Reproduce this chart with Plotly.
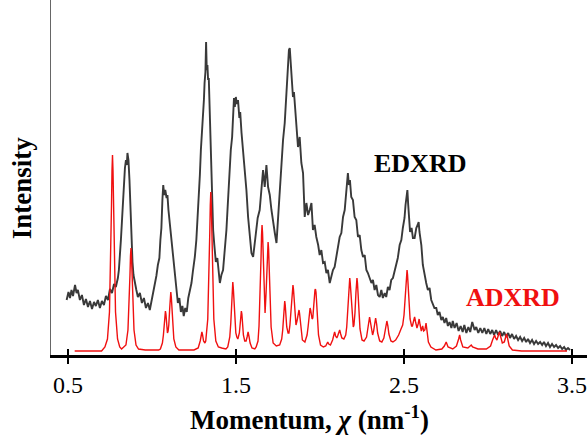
import plotly.graph_objects as go

# ---- EDXRD measured profile (momentum in nm^-1, intensity in arbitrary units) ----
edx_x = [
    0.492, 0.503, 0.512, 0.521, 0.530, 0.542, 0.551, 0.559, 0.571, 0.583, 0.595, 0.607, 0.619, 0.631,
    0.643, 0.655, 0.666, 0.678, 0.690, 0.702, 0.714, 0.726, 0.738, 0.750, 0.762, 0.774, 0.785, 0.797,
    0.803, 0.809, 0.815, 0.821, 0.827, 0.833, 0.839, 0.845, 0.850, 0.854, 0.860, 0.866, 0.872, 0.878,
    0.884, 0.890, 0.898, 0.907, 0.916, 0.928, 0.940, 0.952, 0.964, 0.976, 0.987, 0.999, 1.008, 1.017,
    1.026, 1.035, 1.044, 1.050, 1.056, 1.062, 1.067, 1.073, 1.079, 1.087, 1.092, 1.098, 1.107, 1.116,
    1.124, 1.136, 1.145, 1.154, 1.163, 1.172, 1.181, 1.189, 1.198, 1.207, 1.216, 1.225, 1.235, 1.243,
    1.255, 1.264, 1.273, 1.279, 1.285, 1.291, 1.297, 1.303, 1.309, 1.313, 1.318, 1.322, 1.326, 1.330,
    1.334, 1.338, 1.344, 1.350, 1.354, 1.359, 1.364, 1.371, 1.380, 1.389, 1.397, 1.404, 1.413, 1.423,
    1.433, 1.443, 1.451, 1.457, 1.463, 1.469, 1.477, 1.483, 1.488, 1.493, 1.499, 1.505, 1.512, 1.520,
    1.525, 1.533, 1.542, 1.552, 1.562, 1.572, 1.582, 1.592, 1.602, 1.612, 1.622, 1.629, 1.641, 1.652,
    1.661, 1.671, 1.681, 1.691, 1.701, 1.711, 1.721, 1.731, 1.741, 1.750, 1.760, 1.770, 1.780, 1.790,
    1.800, 1.810, 1.815, 1.820, 1.825, 1.830, 1.834, 1.839, 1.845, 1.850, 1.860, 1.869, 1.879, 1.889,
    1.899, 1.909, 1.919, 1.929, 1.939, 1.949, 1.958, 1.968, 1.978, 1.989, 1.998, 2.008, 2.018, 2.028,
    2.038, 2.047, 2.058, 2.067, 2.077, 2.087, 2.097, 2.107, 2.117, 2.127, 2.137, 2.147, 2.157, 2.162,
    2.166, 2.172, 2.178, 2.186, 2.196, 2.206, 2.216, 2.226, 2.236, 2.246, 2.256, 2.266, 2.276, 2.285,
    2.295, 2.306, 2.315, 2.325, 2.335, 2.345, 2.355, 2.365, 2.374, 2.385, 2.394, 2.404, 2.414, 2.424,
    2.434, 2.444, 2.454, 2.463, 2.474, 2.484, 2.493, 2.503, 2.509, 2.515, 2.520, 2.525, 2.530, 2.536,
    2.545, 2.553, 2.563, 2.573, 2.581, 2.587, 2.592, 2.603, 2.612, 2.622, 2.632, 2.642, 2.652, 2.662,
    2.671, 2.681, 2.692, 2.701, 2.711, 2.722, 2.731, 2.741, 2.751, 2.761, 2.771, 2.782, 2.790, 2.801,
    2.813, 2.825, 2.837, 2.849, 2.859, 2.871, 2.883, 2.894, 2.906, 2.920, 2.930, 2.942, 2.954, 2.966,
    2.978, 2.990, 3.001, 3.013, 3.025, 3.036, 3.048, 3.060, 3.072, 3.084, 3.096, 3.108, 3.120, 3.131,
    3.143, 3.155, 3.167, 3.179, 3.191, 3.203, 3.215, 3.227, 3.238, 3.250, 3.262, 3.274, 3.286, 3.298,
    3.310, 3.322, 3.333, 3.345, 3.357, 3.369, 3.381, 3.393, 3.405, 3.417, 3.429, 3.441, 3.453, 3.464,
    3.476, 3.488,
]
edx_y = [
    55, 63, 57, 65, 59, 70, 62, 65, 55, 60, 50, 56, 48, 54,
    46, 53, 49, 55, 47, 54, 50, 59, 55, 66, 62, 71, 68, 77,
    85, 97, 115, 133, 155, 175, 187, 195, 190, 202, 195, 175, 145, 117,
    93, 80, 71, 65, 58, 62, 52, 57, 47, 52, 45, 55, 63, 72,
    79, 90, 97, 115, 127, 155, 170, 160, 165, 157, 160, 145, 130, 112,
    97, 78, 65, 52, 57, 43, 49, 39, 47, 43, 57, 63, 72, 83,
    98, 115, 138, 155, 180, 205, 220, 237, 255, 272, 283, 313, 285, 290,
    275, 277, 242, 215, 185, 155, 125, 110, 93, 97, 80, 72, 80, 85,
    105, 125, 150, 170, 185, 205, 218, 245, 257, 248, 258, 251, 255, 237,
    243, 222, 205, 185, 165, 138, 115, 102, 98, 115, 128, 137, 145, 172,
    185, 168, 190, 168, 160, 145, 132, 122, 112, 138, 160, 185, 215, 232,
    265, 292, 305, 307, 293, 285, 275, 258, 263, 250, 232, 208, 218, 192,
    182, 138, 152, 140, 145, 152, 125, 130, 118, 110, 100, 105, 92, 93,
    82, 85, 72, 80, 85, 88, 98, 105, 118, 122, 138, 145, 165, 180,
    182, 170, 175, 158, 155, 138, 135, 118, 120, 105, 98, 100, 85, 82,
    77, 72, 75, 65, 70, 60, 58, 65, 57, 62, 58, 68, 65, 75,
    77, 85, 93, 97, 110, 115, 127, 137, 150, 162, 165, 150, 140, 123,
    127, 117, 117, 127, 130, 133, 123, 110, 90, 80, 72, 65, 67, 55,
    52, 47, 47, 40, 43, 35, 38, 32, 37, 29, 33, 27, 34, 27,
    32, 24, 29, 23, 30, 22, 28, 23, 33, 25, 28, 22, 27, 22,
    27, 21, 26, 21, 25, 20, 25, 20, 24, 19, 23, 18, 22, 17,
    21, 16, 19, 15, 18, 14, 17, 13, 16, 12, 15, 11, 14, 11,
    13, 10, 13, 9, 12, 8, 11, 8, 10, 7, 9, 6, 8, 5,
    7, 5,
]

# ---- ADXRD calculated pattern ----
adx_x = [
    0.540, 0.700, 0.720, 0.735, 0.747, 0.753, 0.759, 0.762, 0.765, 0.768, 0.771, 0.777, 0.783, 0.795,
    0.808, 0.819, 0.845, 0.857, 0.863, 0.869, 0.872, 0.875, 0.878, 0.881, 0.887, 0.893, 0.905, 0.920,
    0.960, 1.040, 1.050, 1.062, 1.068, 1.074, 1.077, 1.080, 1.083, 1.086, 1.092, 1.096, 1.100, 1.106,
    1.109, 1.112, 1.115, 1.118, 1.124, 1.130, 1.142, 1.160, 1.250, 1.275, 1.287, 1.293, 1.297, 1.301,
    1.307, 1.315, 1.320, 1.332, 1.338, 1.344, 1.347, 1.350, 1.353, 1.356, 1.362, 1.368, 1.380, 1.395,
    1.415, 1.440, 1.451, 1.463, 1.469, 1.475, 1.478, 1.481, 1.484, 1.487, 1.493, 1.499, 1.505, 1.511,
    1.520, 1.526, 1.529, 1.532, 1.535, 1.538, 1.544, 1.552, 1.560, 1.566, 1.572, 1.578, 1.584, 1.595,
    1.612, 1.620, 1.631, 1.637, 1.643, 1.649, 1.652, 1.655, 1.658, 1.661, 1.667, 1.673, 1.679, 1.685,
    1.688, 1.691, 1.694, 1.697, 1.703, 1.709, 1.721, 1.740, 1.760, 1.772, 1.778, 1.784, 1.787, 1.790,
    1.793, 1.796, 1.802, 1.810, 1.815, 1.821, 1.827, 1.833, 1.836, 1.839, 1.842, 1.845, 1.851, 1.857,
    1.863, 1.869, 1.872, 1.875, 1.878, 1.881, 1.887, 1.895, 1.910, 1.923, 1.929, 1.935, 1.938, 1.941,
    1.944, 1.948, 1.953, 1.957, 1.961, 1.967, 1.970, 1.973, 1.976, 1.979, 1.985, 1.991, 2.003, 2.020,
    2.034, 2.040, 2.046, 2.052, 2.062, 2.075, 2.081, 2.087, 2.093, 2.100, 2.105, 2.111, 2.117, 2.123,
    2.130, 2.142, 2.153, 2.159, 2.165, 2.171, 2.174, 2.177, 2.180, 2.183, 2.189, 2.195, 2.198, 2.202,
    2.208, 2.214, 2.217, 2.220, 2.223, 2.226, 2.232, 2.238, 2.250, 2.262, 2.277, 2.283, 2.289, 2.295,
    2.301, 2.307, 2.313, 2.319, 2.325, 2.331, 2.337, 2.343, 2.355, 2.368, 2.380, 2.386, 2.392, 2.398,
    2.404, 2.410, 2.422, 2.434, 2.450, 2.468, 2.482, 2.492, 2.500, 2.506, 2.512, 2.515, 2.518, 2.521,
    2.524, 2.530, 2.536, 2.545, 2.550, 2.557, 2.563, 2.569, 2.577, 2.584, 2.590, 2.596, 2.603, 2.611,
    2.617, 2.624, 2.631, 2.637, 2.645, 2.660, 2.690, 2.725, 2.740, 2.751, 2.762, 2.790, 2.812, 2.825,
    2.831, 2.837, 2.850, 2.880, 2.893, 2.900, 2.908, 2.940, 2.990, 3.015, 3.027, 3.033, 3.039, 3.045,
    3.053, 3.062, 3.068, 3.074, 3.085, 3.097, 3.104, 3.110, 3.116, 3.126, 3.145, 3.200, 3.470,
]
adx_y = [
    4, 4, 8, 16, 43, 84, 149, 184, 200, 184, 149, 84, 43, 16,
    8, 6, 10, 25, 46, 80, 99, 107, 99, 80, 46, 25, 10, 6,
    5, 5, 6, 12, 20, 34, 41, 44, 41, 35, 22, 24, 30, 48,
    58, 63, 58, 48, 28, 16, 8, 5, 5, 7, 14, 20, 23, 20,
    14, 12, 14, 36, 69, 122, 150, 163, 150, 122, 69, 36, 14, 8,
    7, 6, 8, 18, 32, 55, 67, 73, 67, 55, 34, 22, 18, 16,
    22, 34, 41, 44, 41, 34, 20, 14, 14, 18, 23, 18, 12, 7,
    6, 8, 14, 29, 56, 97, 120, 130, 122, 100, 65, 42, 62, 91,
    106, 113, 106, 90, 51, 28, 12, 9, 10, 16, 25, 41, 50, 54,
    50, 42, 28, 22, 22, 30, 46, 62, 69, 70, 66, 56, 38, 30,
    34, 40, 44, 45, 42, 36, 24, 15, 13, 20, 28, 40, 45, 47,
    45, 40, 36, 37, 48, 61, 65, 66, 63, 55, 35, 20, 10, 8,
    9, 11, 13, 11, 10, 15, 20, 23, 19, 17, 19, 23, 25, 21,
    17, 16, 20, 28, 42, 63, 72, 77, 72, 63, 42, 30, 28, 30,
    42, 63, 72, 77, 72, 63, 40, 26, 15, 14, 18, 24, 32, 38,
    32, 24, 20, 24, 31, 37, 31, 22, 14, 13, 17, 24, 30, 34,
    29, 21, 14, 13, 15, 20, 26, 30, 40, 55, 74, 82, 85, 80,
    70, 48, 36, 29, 29, 34, 38, 33, 27, 31, 36, 30, 24, 29,
    24, 25, 32, 24, 13, 8, 5, 6, 9, 13, 8, 6, 9, 16,
    20, 15, 8, 7, 9, 10, 8, 6, 6, 9, 15, 18, 20, 17,
    15, 20, 23, 19, 12, 13, 18, 21, 17, 9, 5, 4, 4,
]

assert len(edx_x) == len(edx_y)
assert len(adx_x) == len(adx_y)

tick_vals = [0.5, 1.5, 2.5, 3.5]
tick_text = ["0.5", "1.5", "2.5", "3.5"]

SERIF = "Liberation Serif"

fig = go.Figure()
fig.add_trace(go.Scatter(
    x=edx_x, y=edx_y, mode="lines", name="EDXRD",
    line=dict(color="rgba(30,30,30,0.88)", width=1.9),
))
fig.add_trace(go.Scatter(
    x=adx_x, y=adx_y, mode="lines", name="ADXRD",
    line=dict(color="#f01010", width=1.4),
))
# empty trace that carries the second x axis (upper half of the cross ticks)
fig.add_trace(go.Scatter(x=[], y=[], xaxis="x2", showlegend=False, hoverinfo="skip"))

x_range = [0.399, 3.589]

fig.update_layout(
    width=587, height=436,
    margin=dict(l=51, r=0, t=0, b=81),
    plot_bgcolor="white", paper_bgcolor="white",
    showlegend=False,
    xaxis=dict(
        range=x_range, tickvals=tick_vals, ticktext=tick_text,
        ticks="outside", ticklen=6, tickwidth=1.5, tickcolor="black",
        showline=True, linecolor="black", linewidth=3,
        showgrid=False, zeroline=False, ticklabeloverflow="allow",
        tickfont=dict(family=SERIF, size=24, color="black"),
    ),
    xaxis2=dict(
        range=x_range, overlaying="x", anchor="y", side="bottom",
        tickvals=tick_vals, ticks="inside", ticklen=6, tickwidth=1.5, tickcolor="black",
        showticklabels=False, showline=False, showgrid=False, zeroline=False,
    ),
    yaxis=dict(
        range=[0, 355], showline=True, linecolor="#666666", linewidth=1,
        showticklabels=False, ticks="", showgrid=False, zeroline=False,
    ),
    annotations=[
        dict(text="<b>EDXRD</b>", x=2.593, y=192, xref="x", yref="y",
             showarrow=False, font=dict(family=SERIF, size=26, color="black")),
        dict(text="<b>ADXRD</b>", x=3.146, y=58, xref="x", yref="y",
             showarrow=False, font=dict(family=SERIF, size=26, color="#f01010")),
        dict(text="<b>Intensity</b>", x=-0.054, y=0.47, xref="paper", yref="paper",
             textangle=-90, showarrow=False, xanchor="center", yanchor="middle",
             font=dict(family=SERIF, size=27, color="black")),
        dict(text="<b>Momentum, <i>χ</i> (nm<sup>-1</sup>)</b>", x=0.483, y=-0.177,
             xref="paper", yref="paper", showarrow=False, xanchor="center", yanchor="middle",
             font=dict(family=SERIF, size=27, color="black")),
    ],
)

fig.write_html("out.html")
